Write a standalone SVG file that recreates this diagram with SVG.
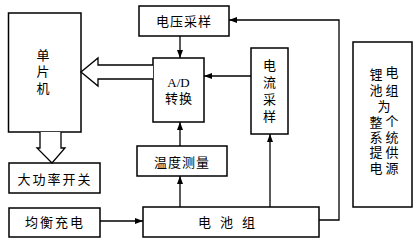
<svg xmlns="http://www.w3.org/2000/svg" width="420" height="244" viewBox="0 0 420 244">
<style>
.box{fill:#fff;stroke:#000;stroke-width:1.5}
.t{font-family:"Liberation Serif","Noto Sans CJK SC",serif;font-size:13px;fill:#000;text-anchor:middle;dominant-baseline:central}
.ln{fill:none;stroke:#000;stroke-width:1.3}
.hol{fill:#fff;stroke:#000;stroke-width:1.3;stroke-linejoin:miter}
</style>
<defs>
<marker id="ah" markerWidth="8" markerHeight="6" refX="8" refY="3" orient="auto" markerUnits="userSpaceOnUse">
<path d="M0,0 L8,3 L0,6 z" fill="#000"/>
</marker>
</defs>
<rect width="420" height="244" fill="#fff"/>
<g id="mcu"><rect class="box" x="8.5" y="13" width="72.5" height="119"/>
<text class="t" x="43" y="55">单</text><text class="t" x="43" y="71">片</text><text class="t" x="43" y="88">机</text></g>
<g id="voltage"><rect class="box" x="139" y="6" width="90" height="30"/><text class="t" x="184" y="21" letter-spacing="1">电压采样</text></g>
<g id="adc"><rect class="box" x="153" y="58" width="51" height="64"/><text class="t" x="178.5" y="82" font-size="14">A/D</text><text class="t" x="179" y="98" letter-spacing="1">转换</text></g>
<g id="current"><rect class="box" x="251" y="48" width="37" height="86"/>
<text class="t" x="269.5" y="65">电</text><text class="t" x="269.5" y="82">流</text><text class="t" x="269.5" y="99">采</text><text class="t" x="269.5" y="116">样</text></g>
<g id="temp"><rect class="box" x="137" y="146" width="90" height="30"/><text class="t" x="182" y="162" letter-spacing="1">温度测量</text></g>
<g id="switch"><rect class="box" x="9" y="163" width="91" height="30"/><text class="t" x="55" y="179" letter-spacing="2">大功率开关</text></g>
<g id="balance"><rect class="box" x="9" y="208" width="91" height="29"/><text class="t" x="55" y="222" letter-spacing="2">均衡充电</text></g>
<g id="battery"><rect class="box" x="143" y="207" width="176" height="30"/><text class="t" x="231" y="222" letter-spacing="9">电池组</text></g>
<g id="power"><rect class="box" x="353" y="42" width="59" height="165"/>
<text class="t" x="376" y="74">锂</text><text class="t" x="392" y="72">电</text>
<text class="t" x="376" y="90">池</text><text class="t" x="392" y="90">组</text>
<text class="t" x="384" y="106">为</text>
<text class="t" x="376" y="122">整</text><text class="t" x="392" y="121">个</text>
<text class="t" x="376" y="137">系</text><text class="t" x="392" y="137">统</text>
<text class="t" x="376" y="152">提</text><text class="t" x="392" y="152">供</text>
<text class="t" x="376" y="168">电</text><text class="t" x="392" y="168">源</text></g>
<g id="connectors">
<path class="hol" d="M153,65 L98,65 L98,58 L81,72 L98,86 L98,79 L153,79"/>
<path class="hol" d="M40,132 L40,148 L37,148 L52,163 L65,148 L61,148 L61,132"/>
<path class="ln" d="M180,36 L180,58" marker-end="url(#ah)"/>
<path class="ln" d="M251,76 L204,76" marker-end="url(#ah)"/>
<path class="ln" d="M319,220 L339,220 L339,20 L229,20" marker-end="url(#ah)"/>
<path class="ln" d="M270,207 L270,134" marker-end="url(#ah)"/>
<path class="ln" d="M180,207 L180,176" marker-end="url(#ah)"/>
<path class="ln" d="M180,146 L180,122" marker-end="url(#ah)"/>
<path class="ln" d="M100,221 L143,221" marker-end="url(#ah)"/>
</g>
</svg>
